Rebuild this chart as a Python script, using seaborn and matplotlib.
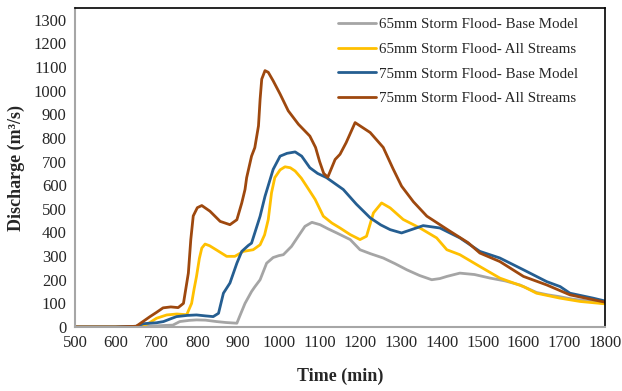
import matplotlib
matplotlib.use("Agg")
import matplotlib.pyplot as plt
import seaborn as sns
import pandas as pd

# Hydrograph readings (time in minutes, discharge in m3/s)
t_65_base = [500, 600, 650, 700, 740, 757, 780, 798, 820, 847, 870, 897, 905, 917,
             925, 933, 941, 954, 970, 986, 1000, 1011, 1031, 1048, 1064, 1081,
             1101, 1120, 1142, 1175, 1199, 1225, 1256, 1285, 1314, 1345, 1375,
             1395, 1412, 1444, 1480, 1518, 1555, 1591, 1632, 1660, 1690, 1720,
             1750, 1800]
q_65_base = [0, 0, 2, 5, 8, 23, 28, 30, 29, 23, 19, 16, 50, 100,
             125, 150, 170, 200, 270, 294, 302, 306, 341, 385, 426, 443,
             433, 416, 398, 370, 327, 310, 292, 268, 242, 218, 200,
             205, 214, 228, 222, 207, 195, 178, 146, 136, 128, 118,
             112, 100]

t_65_all = [500, 600, 660, 680, 700, 725, 750, 774, 786, 792, 798, 805, 811, 819,
            830, 847, 872, 892, 913, 937, 954, 965, 974, 982, 990, 1003, 1015,
            1028, 1040, 1055, 1068, 1089, 1109, 1130, 1150, 1175, 1199, 1215,
            1232, 1252, 1273, 1305, 1346, 1387, 1412, 1444, 1493, 1542, 1600,
            1632, 1690, 1739, 1800]
q_65_all = [0, 0, 0, 15, 37, 51, 55, 52, 100, 160, 214, 290, 334, 351,
            344, 326, 299, 299, 320, 327, 348, 390, 455, 568, 632, 665, 678,
            674, 660, 630, 596, 540, 469, 440, 419, 391, 370, 384,
            483, 525, 504, 455, 419, 377, 327, 306, 256, 207, 171,
            143, 122, 108, 98]

t_75_base = [500, 600, 650, 668, 700, 717, 735, 749, 775, 798, 820, 839, 852, 864,
             880, 897, 909, 925, 933, 954, 966, 986, 1003, 1020, 1040, 1056,
             1076, 1095, 1117, 1158, 1190, 1224, 1250, 1273, 1301, 1325, 1354,
             1395, 1444, 1493, 1542, 1600, 1657, 1690, 1714, 1771, 1800]
q_75_base = [0, 0, 3, 14, 18, 23, 35, 44, 49, 51, 47, 44, 58, 143,
             186, 270, 320, 345, 355, 469, 553, 667, 723, 735, 741, 723,
             674, 650, 632, 582, 520, 462, 432, 412, 398, 412, 429,
             419, 377, 320, 292, 242, 192, 171, 143, 122, 110]

t_75_all = [500, 600, 650, 684, 700, 716, 735, 753, 766, 778, 784, 790, 800, 811,
            831, 856, 880, 897, 909, 917, 921, 933, 941, 950, 954, 958, 966,
            974, 986, 1003, 1023, 1048, 1076, 1090, 1100, 1110, 1120, 1138,
            1150, 1165, 1187, 1224, 1256, 1280, 1301, 1330, 1363, 1420, 1464,
            1493, 1542, 1600, 1657, 1714, 1800]
q_75_all = [0, 0, 3, 44, 62, 81, 85, 82, 100, 228, 370, 470, 505, 514,
            490, 447, 433, 454, 525, 582, 632, 723, 759, 851, 964, 1049, 1085,
            1078, 1042, 986, 915, 858, 808, 760, 700, 650, 634, 709,
            731, 780, 865, 823, 760, 670, 596, 530, 469, 405, 357,
            313, 277, 214, 178, 136, 105]

series_names = ["65mm Storm Flood- Base Model", "65mm Storm Flood- All Streams",
                "75mm Storm Flood- Base Model", "75mm Storm Flood- All Streams"]
series_colors = ["#A5A5A5", "#FFC000", "#255E91", "#9E480E"]

frames = []
for name, t, q in zip(series_names,
                      [t_65_base, t_65_all, t_75_base, t_75_all],
                      [q_65_base, q_65_all, q_75_base, q_75_all]):
    frames.append(pd.DataFrame({"Time": t, "Discharge": q, "Series": name}))
df = pd.concat(frames, ignore_index=True)

sns.set_style("white")
plt.rcParams["font.family"] = ["Liberation Serif", "DejaVu Serif"]

fig = plt.figure(figsize=(6.22, 3.91), dpi=100)
ax = fig.add_axes([0.1206, 0.1637, 0.8521, 0.8158])

sns.lineplot(data=df, x="Time", y="Discharge", hue="Series",
             hue_order=series_names, palette=series_colors,
             estimator=None, sort=True, linewidth=2.0, ax=ax)
for line in ax.get_lines():
    line.set_solid_joinstyle("round")
    line.set_solid_capstyle("round")

ax.set_xlim(500, 1800)
ax.set_ylim(0, 1350)
ax.set_xticks(range(500, 1801, 100))
ax.set_yticks(range(0, 1301, 100))
ax.tick_params(axis="both", length=0, labelsize=12, pad=6)

for side in ("left", "bottom"):
    ax.spines[side].set_color("#A6A6A6")
    ax.spines[side].set_linewidth(1.5)
for side in ("top", "right"):
    ax.spines[side].set_color("black")
    ax.spines[side].set_linewidth(1.2)

ax.set_xlabel("Time (min)", fontsize=13, fontweight="bold", labelpad=12)
ax.set_ylabel("Discharge (m³/s)", fontsize=13, fontweight="bold", labelpad=6)

leg = ax.legend(loc="upper right", bbox_to_anchor=(0.97, 1.003), frameon=False,
                fontsize=10.8, handlelength=2.5, labelspacing=0.75,
                handletextpad=0.25, borderaxespad=0.3)
for h in leg.get_lines():
    h.set_linewidth(2.0)

fig.savefig("out.png", dpi=100)
